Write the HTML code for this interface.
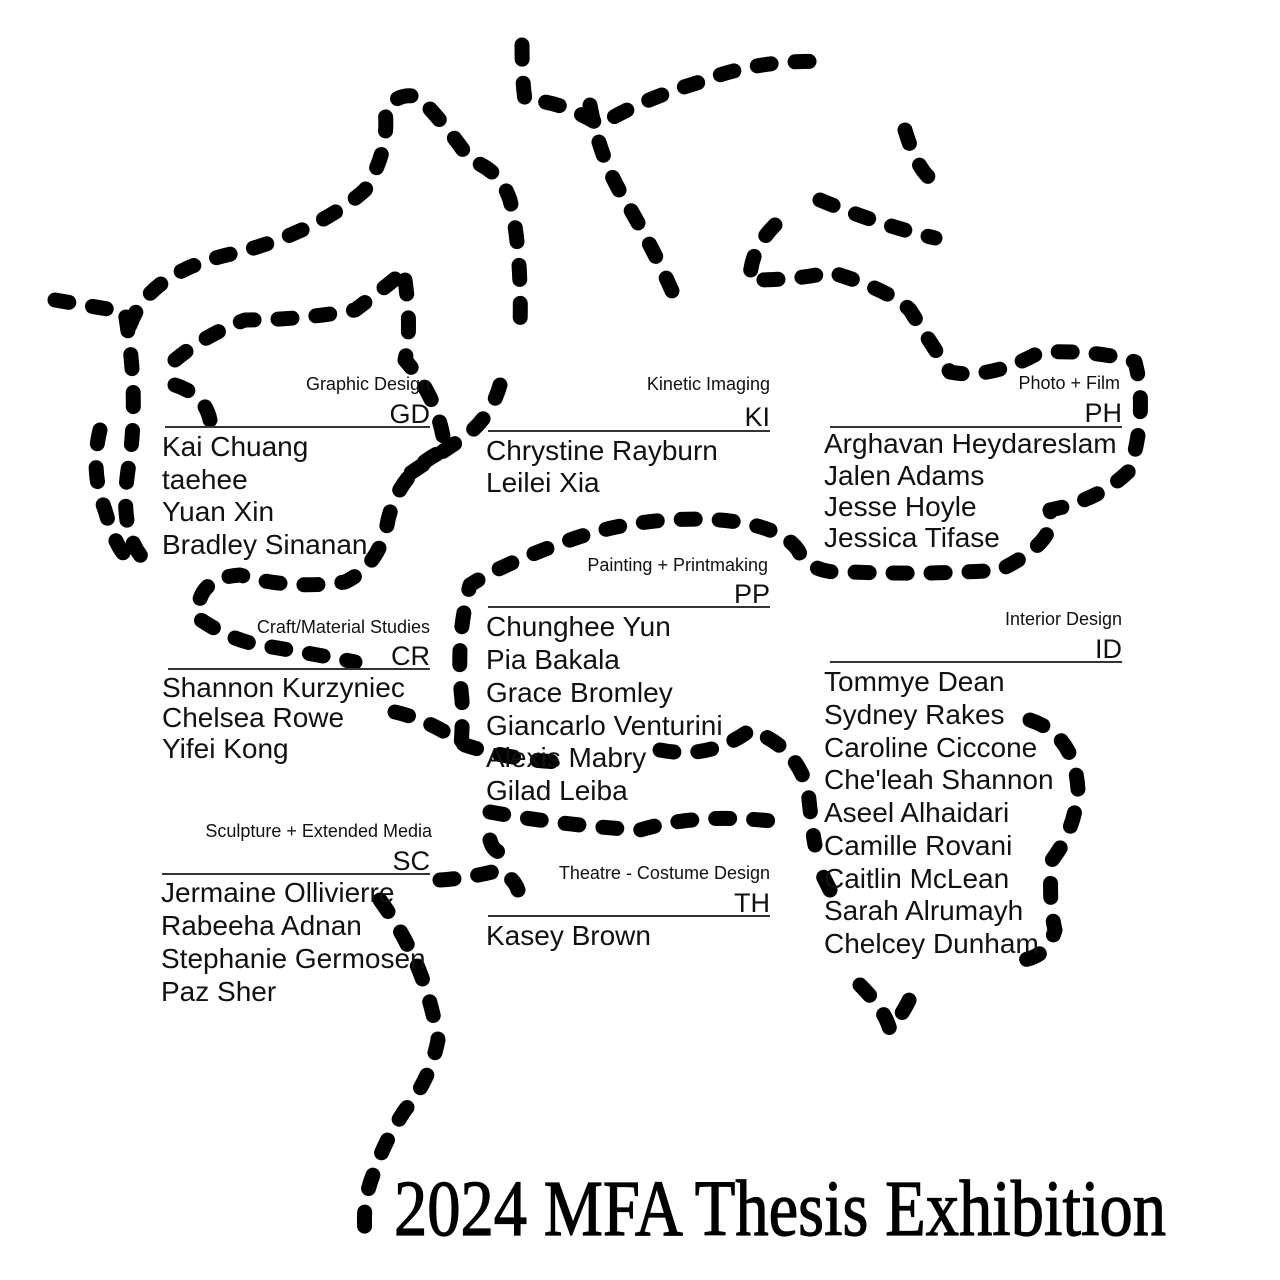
<!DOCTYPE html>
<html><head><meta charset="utf-8">
<style>
html,body{margin:0;padding:0;background:#fff;}
svg{display:block;}
.lab{font-family:"Liberation Sans",sans-serif;font-size:18px;fill:#111;}
.code{font-family:"Liberation Sans",sans-serif;font-size:27px;fill:#111;}
.nm{font-family:"Liberation Sans",sans-serif;font-size:28px;fill:#111;}
.rule{stroke:#333;stroke-width:2;}
.d{fill:none;stroke:#000;stroke-width:15;stroke-linecap:round;stroke-linejoin:round;stroke-dasharray:14 24;}
</style></head>
<body>
<svg width="1280" height="1280" viewBox="0 0 1280 1280">
<g>
<path class="d" d="M55,300 L125,312 Q140,400 128,470 Q118,540 150,565"/>
<path class="d" d="M130,325 Q150,270 240,252 Q320,230 365,190 Q390,150 385,110 Q400,90 420,98 Q450,130 470,160 Q500,170 510,200 Q522,250 520,330"/>
<path class="d" d="M175,360 Q205,335 245,320 Q300,320 355,310 Q395,280 405,270"/>
<path class="d" d="M405,280 Q412,330 405,360 Q440,400 445,450 Q400,470 388,520 Q380,565 345,582 Q290,590 240,575 Q195,578 198,618 Q230,640 260,645 Q320,655 355,662"/>
<path class="d" d="M175,385 Q205,395 210,420"/>
<path class="d" d="M100,430 Q90,470 105,510 Q115,545 125,555"/>
<path class="d" d="M522,45 Q522,80 525,100 Q560,100 600,125 Q640,100 700,82 Q760,58 830,62"/>
<path class="d" d="M590,105 Q600,160 625,200 Q660,260 680,310"/>
<path class="d" d="M500,385 Q490,420 460,440 Q430,460 400,480"/>
<path class="d" d="M905,130 Q920,180 942,185"/>
<path class="d" d="M820,200 Q880,225 935,238"/>
<path class="d" d="M775,225 Q750,250 750,280 Q800,280 830,272 Q890,290 910,310 Q935,350 950,372 Q990,380 1040,352 Q1100,350 1135,362 Q1148,410 1130,470 Q1100,500 1050,510 Q1060,540 1000,570 Q930,575 850,572 Q810,575 798,550 Q780,525 720,520 Q640,515 570,540 Q500,565 470,585 Q455,640 462,700 Q463,730 460,755"/>
<path class="d" d="M395,712 Q430,720 465,745 Q510,760 560,762"/>
<path class="d" d="M660,750 Q710,760 750,730 Q795,745 808,790 Q812,830 815,845"/>
<path class="d" d="M490,812 Q560,825 640,830 Q700,812 780,822"/>
<path class="d" d="M490,840 Q495,860 520,850"/>
<path class="d" d="M1030,720 Q1075,735 1078,790 Q1075,830 1052,860 Q1048,900 1055,930 Q1045,965 1005,960"/>
<path class="d" d="M860,985 Q885,1010 890,1030 Q905,1010 910,998"/>
<path class="d" d="M380,900 Q398,925 410,950 Q430,990 438,1040 Q430,1080 405,1110 Q385,1140 375,1170 Q362,1200 365,1232"/>
<path class="d" d="M440,880 Q470,878 500,870 Q515,880 518,890"/>
<path class="d" d="M830,890 Q820,870 815,860"/>
</g>

<g>
<text class="lab" x="430" y="390" text-anchor="end">Graphic Design</text>
<text class="code" x="430" y="423" text-anchor="end">GD</text>
<line class="rule" x1="165" y1="427" x2="430" y2="427"/>
<text class="nm" x="162" y="456">Kai Chuang</text>
<text class="nm" x="162" y="489">taehee</text>
<text class="nm" x="162" y="521">Yuan Xin</text>
<text class="nm" x="162" y="554">Bradley Sinanan</text>
</g>
<g>
<text class="lab" x="770" y="390" text-anchor="end">Kinetic Imaging</text>
<text class="code" x="770" y="426" text-anchor="end">KI</text>
<line class="rule" x1="488" y1="431" x2="770" y2="431"/>
<text class="nm" x="486" y="460">Chrystine Rayburn</text>
<text class="nm" x="486" y="492">Leilei Xia</text>
</g>
<g>
<text class="lab" x="1120" y="389" text-anchor="end">Photo + Film</text>
<text class="code" x="1122" y="422" text-anchor="end">PH</text>
<line class="rule" x1="830" y1="427" x2="1122" y2="427"/>
<text class="nm" x="824" y="453">Arghavan Heydareslam</text>
<text class="nm" x="824" y="485">Jalen Adams</text>
<text class="nm" x="824" y="516">Jesse Hoyle</text>
<text class="nm" x="824" y="547">Jessica Tifase</text>
</g>
<g>
<text class="lab" x="768" y="571" text-anchor="end">Painting + Printmaking</text>
<text class="code" x="770" y="603" text-anchor="end">PP</text>
<line class="rule" x1="488" y1="607" x2="770" y2="607"/>
<text class="nm" x="486" y="636">Chunghee Yun</text>
<text class="nm" x="486" y="669">Pia Bakala</text>
<text class="nm" x="486" y="702">Grace Bromley</text>
<text class="nm" x="486" y="735">Giancarlo Venturini</text>
<text class="nm" x="486" y="767">Alexis Mabry</text>
<text class="nm" x="486" y="800">Gilad Leiba</text>
</g>
<g>
<text class="lab" x="1122" y="625" text-anchor="end">Interior Design</text>
<text class="code" x="1122" y="658" text-anchor="end">ID</text>
<line class="rule" x1="830" y1="662" x2="1122" y2="662"/>
<text class="nm" x="824" y="691">Tommye Dean</text>
<text class="nm" x="824" y="724">Sydney Rakes</text>
<text class="nm" x="824" y="757">Caroline Ciccone</text>
<text class="nm" x="824" y="789">Che'leah Shannon</text>
<text class="nm" x="824" y="822">Aseel Alhaidari</text>
<text class="nm" x="824" y="855">Camille Rovani</text>
<text class="nm" x="824" y="888">Caitlin McLean</text>
<text class="nm" x="824" y="920">Sarah Alrumayh</text>
<text class="nm" x="824" y="953">Chelcey Dunham</text>
</g>
<g>
<text class="lab" x="430" y="633" text-anchor="end">Craft/Material Studies</text>
<text class="code" x="430" y="665" text-anchor="end">CR</text>
<line class="rule" x1="168" y1="669" x2="430" y2="669"/>
<text class="nm" x="162" y="697">Shannon Kurzyniec</text>
<text class="nm" x="162" y="727">Chelsea Rowe</text>
<text class="nm" x="162" y="758">Yifei Kong</text>
</g>
<g>
<text class="lab" x="432" y="837" text-anchor="end">Sculpture + Extended Media</text>
<text class="code" x="430" y="870" text-anchor="end">SC</text>
<line class="rule" x1="162" y1="874" x2="430" y2="874"/>
<text class="nm" x="161" y="902">Jermaine Ollivierre</text>
<text class="nm" x="161" y="935">Rabeeha Adnan</text>
<text class="nm" x="161" y="968">Stephanie Germosen</text>
<text class="nm" x="161" y="1001">Paz Sher</text>
</g>
<g>
<text class="lab" x="770" y="879" text-anchor="end">Theatre - Costume Design</text>
<text class="code" x="770" y="912" text-anchor="end">TH</text>
<line class="rule" x1="488" y1="916" x2="770" y2="916"/>
<text class="nm" x="486" y="945">Kasey Brown</text>
</g>
<text x="394" y="1235" textLength="772" lengthAdjust="spacingAndGlyphs" style="font-family:'Liberation Serif',serif;font-size:79px;fill:#000;stroke:#000;stroke-width:1.2;">2024 MFA Thesis Exhibition</text>
</svg>
</body></html>
